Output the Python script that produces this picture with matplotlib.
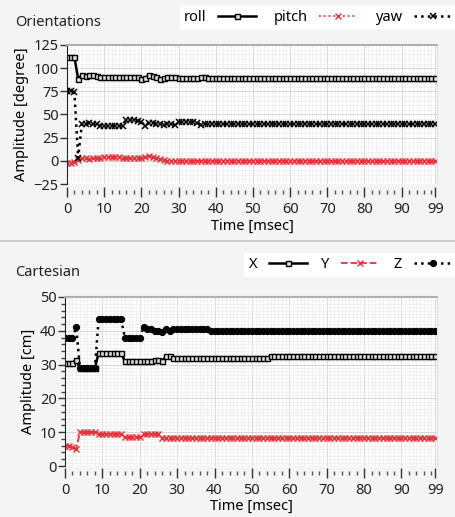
import numpy as np
import matplotlib
matplotlib.use('Agg')
import matplotlib.pyplot as plt
from matplotlib.ticker import MultipleLocator, FixedLocator
from matplotlib.lines import Line2D

plt.rcParams['font.family'] = ['Noto Sans', 'DejaVu Sans']

# czas [msec]
t = np.arange(100)
xticks = [0, 10, 20, 30, 40, 50, 60, 70, 80, 90, 99]

# Orientations [degree]
roll = [112, 112, 112, 88, 93, 92, 93, 93, 92, 91,
        91, 91, 91, 91, 91, 91, 91, 91, 91, 91,
        88, 89, 93, 92, 90, 88, 89, 90, 90, 90,
        89, 89, 89, 89, 89, 89, 90, 90, 89, 89,
        89, 89, 89, 89, 89, 89, 89, 89, 89, 89,
        89, 89, 89, 89, 89, 89, 89, 89, 89, 89,
        89, 89, 89, 89, 89, 89, 89, 89, 89, 89,
        89, 89, 89, 89, 89, 89, 89, 89, 89, 89,
        89, 89, 89, 89, 89, 89, 89, 89, 89, 89,
        89, 89, 89, 89, 89, 89, 89, 89, 89, 89]
pitch = [-2, -2, -1, 1, 3, 3, 2, 3, 3, 3,
         4, 4, 4, 4, 4, 3, 3, 3, 3, 3,
         3, 4, 5, 4, 3, 2, 1, 0, 0, 0,
         0, 0, 0, 0, 0, 0, 0, 0, 0, 0,
         0, 0, 0, 0, 0, 0, 0, 0, 0, 0,
         0, 0, 0, 0, 0, 0, 0, 0, 0, 0,
         0, 0, 0, 0, 0, 0, 0, 0, 0, 0,
         0, 0, 0, 0, 0, 0, 0, 0, 0, 0,
         0, 0, 0, 0, 0, 0, 0, 0, 0, 0,
         0, 0, 0, 0, 0, 0, 0, 0, 0, 0]
yaw = [75, 75, 74, 3, 40, 40, 41, 40, 40, 38,
       38, 38, 38, 38, 38, 38, 44, 44, 44, 43,
       42, 38, 41, 41, 40, 40, 39, 40, 40, 39,
       42, 42, 42, 42, 42, 41, 39, 40, 40, 40,
       40, 40, 40, 40, 40, 40, 40, 40, 40, 40,
       40, 40, 40, 40, 40, 40, 40, 40, 40, 40,
       40, 40, 40, 40, 40, 40, 40, 40, 40, 40,
       40, 40, 40, 40, 40, 40, 40, 40, 40, 40,
       40, 40, 40, 40, 40, 40, 40, 40, 40, 40,
       40, 40, 40, 40, 40, 40, 40, 40, 40, 40]

# Cartesian [cm]
cx = [30.5, 30.5, 30.5, 31.5, 29, 29, 29, 29, 29, 33.5,
      33.5, 33.5, 33.5, 33.5, 33.5, 33.5, 31, 31, 31, 31,
      31, 31, 31, 31, 31.5, 31.5, 31, 32.5, 32.5, 32,
      32, 32, 32, 32, 32, 32, 32, 32, 32, 32,
      32, 32, 32, 32, 32, 32, 32, 32, 32, 32,
      32, 32, 32, 32, 32, 32.5, 32.5, 32.5, 32.5, 32.5,
      32.5, 32.5, 32.5, 32.5, 32.5, 32.5, 32.5, 32.5, 32.5, 32.5,
      32.5, 32.5, 32.5, 32.5, 32.5, 32.5, 32.5, 32.5, 32.5, 32.5,
      32.5, 32.5, 32.5, 32.5, 32.5, 32.5, 32.5, 32.5, 32.5, 32.5,
      32.5, 32.5, 32.5, 32.5, 32.5, 32.5, 32.5, 32.5, 32.5, 32.5]
cy = [6, 6, 5.5, 5, 10, 10, 10, 10, 10, 9.5,
      9.5, 9.5, 9.5, 9.5, 9.5, 9.5, 8.5, 8.5, 8.5, 8.5,
      8.5, 9.5, 9.5, 9.5, 9.5, 9.5, 8.4, 8.4, 8.4, 8.4,
      8.4, 8.4, 8.4, 8.4, 8.4, 8.4, 8.4, 8.4, 8.4, 8.4,
      8.4, 8.4, 8.4, 8.4, 8.4, 8.4, 8.4, 8.4, 8.4, 8.4,
      8.4, 8.4, 8.4, 8.4, 8.4, 8.4, 8.4, 8.4, 8.4, 8.4,
      8.4, 8.4, 8.4, 8.4, 8.4, 8.4, 8.4, 8.4, 8.4, 8.4,
      8.4, 8.4, 8.4, 8.4, 8.4, 8.4, 8.4, 8.4, 8.4, 8.4,
      8.4, 8.4, 8.4, 8.4, 8.4, 8.4, 8.4, 8.4, 8.4, 8.4,
      8.4, 8.4, 8.4, 8.4, 8.4, 8.4, 8.4, 8.4, 8.4, 8.4]
cz = [38, 38, 38, 41, 29, 29, 29, 29, 29, 43.5,
      43.5, 43.5, 43.5, 43.5, 43.5, 43.5, 38, 38, 38, 38,
      38, 41, 40.5, 40.5, 40, 40, 39.5, 40.5, 40, 40.5,
      40.5, 40.5, 40.5, 40.5, 40.5, 40.5, 40.5, 40.5, 40.5, 40,
      40, 40, 40, 40, 40, 40, 40, 40, 40, 40,
      40, 40, 40, 40, 40, 40, 40, 40, 40, 40,
      40, 40, 40, 40, 40, 40, 40, 40, 40, 40,
      40, 40, 40, 40, 40, 40, 40, 40, 40, 40,
      40, 40, 40, 40, 40, 40, 40, 40, 40, 40,
      40, 40, 40, 40, 40, 40, 40, 40, 40, 40]

RED = '#e8303a'
W, H = 456, 517


def style(ax, ymin, ymax, ymaj, ygrid, yminor_tick, off_px, hpx):
    ax.set_xlim(0, 99.5)
    ax.set_ylim(ymin, ymax)
    ax.set_facecolor('white')
    # siatka
    ax.xaxis.set_major_locator(FixedLocator(xticks))
    ax.xaxis.set_minor_locator(MultipleLocator(1))
    ax.yaxis.set_major_locator(MultipleLocator(ymaj))
    ax.yaxis.set_minor_locator(MultipleLocator(ygrid))
    ax.grid(which='major', color='#d6d6d6', lw=0.7)
    ax.grid(which='minor', color='#ececec', lw=0.5)
    ax.set_axisbelow(True)
    ax.tick_params(which='both', length=0, labelsize=10.5, colors='#222222')
    ax.tick_params(axis='x', pad=off_px + 5)
    ax.tick_params(axis='y', pad=6)
    ax.spines['bottom'].set_visible(False)
    ax.spines['top'].set_color('#b0b0b0')
    ax.spines['top'].set_linewidth(1.5)
    ax.spines['right'].set_color('#e0e0e0')
    ax.spines['left'].set_color('#222222')
    # kreski osi
    sx = ax.secondary_xaxis(-off_px / hpx)
    sx.spines['bottom'].set_visible(False)
    sx.xaxis.set_major_locator(FixedLocator(xticks))
    sx.xaxis.set_minor_locator(MultipleLocator(2))
    sx.tick_params(which='major', direction='inout', length=7, width=1, color='#333333', labelbottom=False)
    sx.tick_params(which='minor', direction='inout', length=3.5, width=1, color='#555555')
    sy = ax.secondary_yaxis(0)
    sy.spines['left'].set_visible(False)
    sy.yaxis.set_major_locator(MultipleLocator(ymaj))
    if yminor_tick:
        sy.yaxis.set_minor_locator(MultipleLocator(yminor_tick))
    else:
        sy.yaxis.set_minor_locator(FixedLocator([]))
    sy.tick_params(which='major', direction='out', length=5, width=1, color='#333333', labelleft=False)
    sy.tick_params(which='minor', direction='out', length=3, width=1, color='#444444')


fig = plt.figure(figsize=(W / 100, H / 100), dpi=100)
fig.patch.set_facecolor('#f4f4f4')

# --- Orientations ---
ax1 = fig.add_axes([67 / W, 1 - 184 / H, (437 - 67) / W, (184 - 45) / H])
l1, = ax1.plot(t, roll, color='black', lw=1.8, marker='s', ms=3.6, mfc='#dddddd', mew=1.0)
l2, = ax1.plot(t, pitch, color=RED, lw=1.3, ls=':', marker='x', ms=4, mew=1.0)
l3, = ax1.plot(t, yaw, color='black', lw=1.8, ls=':', marker='x', ms=4.2, mew=1.1)
style(ax1, -25, 125, 25, 5, None, 8, 139)
ax1.set_xlabel('Time [msec]', fontsize=10.5, labelpad=1)
ax1.set_ylabel('Amplitude [degree]', fontsize=10.5, labelpad=3)
fig.text(15 / W, 1 - 22 / H, 'Orientations', fontsize=10.5, va='center', color='#222222')
fig.legend([l1, l2, l3], ['roll', 'pitch', 'yaw'], loc='upper right',
           bbox_to_anchor=(1.0, 1 - 6 / H), ncol=3, markerfirst=False, frameon=True,
           fancybox=False, edgecolor='none', facecolor='white', framealpha=1,
           fontsize=10.5, handlelength=2.6, columnspacing=1.2, handletextpad=0.8,
           borderaxespad=0, borderpad=0.3)

# --- Cartesian ---
ax2 = fig.add_axes([65 / W, 1 - 466 / H, (437 - 65) / W, (466 - 297) / H])
m1, = ax2.plot(t, cx, color='black', lw=1.8, marker='s', ms=3.6, mfc='#dddddd', mew=1.0)
m2, = ax2.plot(t, cy, color=RED, lw=1.3, ls='--', marker='x', ms=4, mew=1.0)
m3, = ax2.plot(t, cz, color='black', lw=1.8, ls=':', marker='o', ms=4.2)
style(ax2, 0, 50, 10, 1, 2, 7, 169)
ax2.set_xlabel('Time [msec]', fontsize=10.5, labelpad=1)
ax2.set_ylabel('Amplitude [cm]', fontsize=10.5, labelpad=3)
fig.text(15 / W, 1 - 273 / H, 'Cartesian', fontsize=10.5, va='center', color='#222222')
fig.legend([m1, m2, m3], ['X', 'Y', 'Z'], loc='upper right',
           bbox_to_anchor=(1.0, 1 - 253 / H), ncol=3, markerfirst=False, frameon=True,
           fancybox=False, edgecolor='none', facecolor='white', framealpha=1,
           fontsize=10.5, handlelength=2.6, columnspacing=1.0, handletextpad=0.8,
           borderaxespad=0, borderpad=0.3)

# linia oddzielająca panele
fig.add_artist(Line2D([0, 1], [1 - 241 / H, 1 - 241 / H], color='#c8c8c8', lw=1.2))

fig.savefig('out.png', dpi=100, facecolor=fig.get_facecolor())
